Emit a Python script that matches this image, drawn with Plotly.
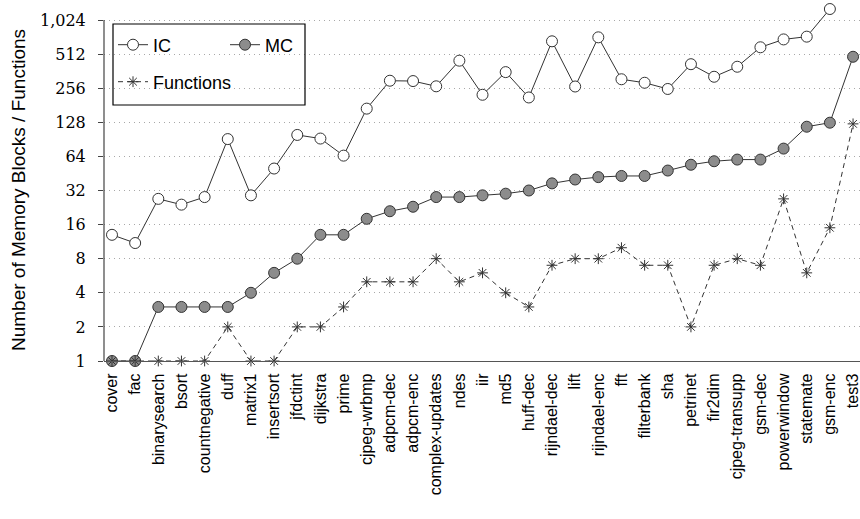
import math
import plotly.graph_objects as go

categories = ["cover", "fac", "binarysearch", "bsort", "countnegative", "duff", "matrix1",
              "insertsort", "jfdctint", "dijkstra", "prime", "cjpeg-wrbmp", "adpcm-dec",
              "adpcm-enc", "complex-updates", "ndes", "iir", "md5", "huff-dec", "rijndael-dec",
              "lift", "rijndael-enc", "fft", "filterbank", "sha", "petrinet", "fir2dim",
              "cjpeg-transupp", "gsm-dec", "powerwindow", "statemate", "gsm-enc", "test3"]

ic_values = [13, 11, 27, 24, 28, 91, 29, 50, 99, 92, 65, 169, 298, 296, 266, 448, 224, 355,
             212, 664, 265, 720, 307, 286, 252, 417, 323, 396, 588, 690, 730, 1280, None]

mc_values = [1, 1, 3, 3, 3, 3, 4, 6, 8, 13, 13, 18, 21, 23, 28, 28, 29, 30, 32, 37, 40, 42,
             43, 43, 48, 54, 58, 60, 60, 75, 117, 127, 485]

fn_values = [1, 1, 1, 1, 1, 2, 1, 1, 2, 2, 3, 5, 5, 5, 8, 5, 6, 4, 3, 7, 8, 8, 10, 7, 7, 2,
             7, 8, 7, 27, 6, 15, 124]

y_tick_vals = [1, 2, 4, 8, 16, 32, 64, 128, 256, 512, 1024]
y_tick_text = ["1", "2", "4", "8", "16", "32", "64", "128", "256", "512", "1,024"]

W, H = 860, 519
PLOT_L, PLOT_R, PLOT_T, PLOT_B = 104, 860, 3, 361
ML, MR, MT, MB = PLOT_L, W - PLOT_R, PLOT_T, H - PLOT_B
PW = W - ML - MR
PH = H - MT - MB
PX_PER_DOUBLING = 34.1
y_top_log10 = math.log10(2) * PH / PX_PER_DOUBLING


def px_x(px):
    return (px - PLOT_L) / PW


def px_y(py):
    return (PLOT_B - py) / PH


dark = "#333333"
fig = go.Figure()

fig.add_trace(go.Scatter(
    x=categories, y=ic_values, name="IC", mode="lines+markers",
    line=dict(color=dark, width=1),
    marker=dict(symbol="circle", size=11, color="white", line=dict(color=dark, width=1)),
    cliponaxis=False, legend="legend"))

fig.add_trace(go.Scatter(
    x=categories, y=mc_values, name="MC", mode="lines+markers",
    line=dict(color=dark, width=1),
    marker=dict(symbol="circle", size=11, color="#8c8c8c", line=dict(color=dark, width=1)),
    cliponaxis=False, legend="legend2"))

fig.add_trace(go.Scatter(
    x=categories, y=fn_values, name="Functions", mode="lines+markers",
    line=dict(color=dark, width=1, dash="5px,4px"),
    marker=dict(symbol="asterisk-open", size=9, color=dark, line=dict(color=dark, width=1)),
    cliponaxis=False, legend="legend3"))

legend_common = dict(bgcolor="rgba(0,0,0,0)", borderwidth=0,
                     font=dict(family="Liberation Sans, Arial, sans-serif", size=18, color="black"),
                     xanchor="left", yanchor="middle", itemwidth=30)

fig.update_layout(
    width=W, height=H,
    margin=dict(l=ML, r=MR, t=MT, b=MB, autoexpand=False),
    paper_bgcolor="white", plot_bgcolor="white",
    showlegend=True,
    legend=dict(x=px_x(113), y=px_y(45), **legend_common),
    legend2=dict(x=px_x(225), y=px_y(45), **legend_common),
    legend3=dict(x=px_x(113), y=px_y(82), **legend_common),
    xaxis=dict(
        type="category", range=[-0.345, 32.3], automargin=False,
        showline=True, linecolor="#555555", linewidth=1.2,
        ticks="", showgrid=False, zeroline=False,
        tickangle=-90, ticklabelstandoff=5,
        tickfont=dict(family="Liberation Sans, Arial, sans-serif", size=16, color="black"),
    ),
    yaxis=dict(
        type="log", range=[0, y_top_log10], automargin=False,
        tickvals=y_tick_vals, ticktext=y_tick_text,
        showline=False, ticks="outside", ticklen=5, tickcolor="#444444", tickwidth=1,
        showgrid=True, gridcolor="#a8a8a8", griddash="1px,4px", gridwidth=1,
        zeroline=False, ticklabelstandoff=9,
        tickfont=dict(family="DejaVu Serif, serif", size=16, color="black"),
    ),
    shapes=[
        dict(type="line", xref="paper", yref="y", x0=0, x1=0, y0=1, y1=1024,
             line=dict(color="#444444", width=1.2)),
        dict(type="rect", xref="paper", yref="paper",
             x0=px_x(113), x1=px_x(305), y0=px_y(105), y1=px_y(24),
             line=dict(color="black", width=1.2), fillcolor="rgba(0,0,0,0)", layer="above"),
    ],
    annotations=[
        dict(text="Number of Memory Blocks / Functions", textangle=-90,
             xref="paper", yref="paper", x=px_x(18), y=px_y(190),
             xanchor="center", yanchor="middle", showarrow=False,
             font=dict(family="Liberation Sans, Arial, sans-serif", size=19, color="black")),
    ],
)

fig.write_html("out.html", config={"displayModeBar": False},
               post_script="document.body.style.margin='0px';")
